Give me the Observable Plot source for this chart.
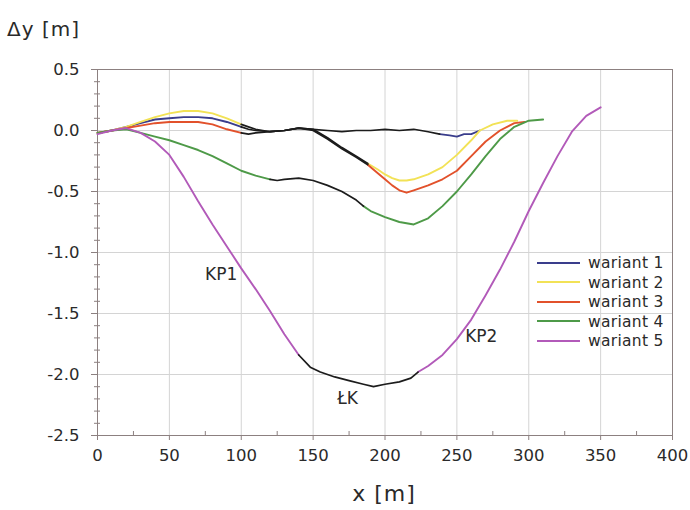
<!DOCTYPE html>
<html><head><meta charset="utf-8">
<script src="https://cdn.jsdelivr.net/npm/d3@7"></script>
<script src="https://cdn.jsdelivr.net/npm/@observablehq/plot@0.6"></script>
<style>
body{margin:0;background:#fff;font-family:"DejaVu Sans",Verdana,sans-serif;}
#wrap{position:relative;width:690px;height:510px;overflow:hidden;}
#wrap svg [aria-label$="tick label"]{font-size:16.5px !important;}
.lbl{position:absolute;color:#2a2a2a;white-space:nowrap;}
#legend{position:absolute;left:537px;top:254px;font-size:15.5px;line-height:19.5px;color:#2a2a2a;letter-spacing:0.3px;}
#legend div{white-space:nowrap;}
#legend span.sw{display:inline-block;width:43px;height:2px;vertical-align:middle;margin-right:8px;position:relative;top:-1px;}
</style></head><body><div id="wrap"></div>
<script>
// ---- data ----
const variantNames = ["wariant 1", "wariant 2", "wariant 3", "wariant 4", "wariant 5"];
const variantColors = ["#3a3d8c", "#f2e256", "#e2512b", "#4e9a48", "#b25ab9"];
const commonColor = "#1c1c1c";

const w1x = [0,10,20,30,40,50,60,70,80,90,100,105,110,120,130,140,150,160,170,180,190,200,210,220,230,238,245,250,255,260,266];
const w1y = [-0.02,0.0,0.03,0.06,0.09,0.10,0.11,0.11,0.10,0.07,0.03,0.01,0.0,-0.01,0.0,0.02,0.01,0.0,-0.01,0.0,0.0,0.01,0.0,0.01,-0.01,-0.03,-0.04,-0.05,-0.03,-0.03,0.0];
const w1black = [105, 238];

const w2x = [0,10,20,30,40,50,60,70,80,90,100,105,110,120,130,140,150,160,170,180,188,195,200,205,210,215,220,230,240,250,260,266,275,285,292];
const w2y = [-0.02,0.0,0.03,0.07,0.11,0.14,0.16,0.16,0.14,0.10,0.05,0.03,0.01,-0.01,0.0,0.02,0.01,-0.06,-0.14,-0.21,-0.27,-0.32,-0.36,-0.39,-0.41,-0.41,-0.40,-0.36,-0.30,-0.20,-0.08,0.0,0.05,0.08,0.08];
const w2black = [105, 188];

const w3x = [0,10,20,30,40,50,60,70,80,90,100,105,110,120,130,140,150,160,170,180,188,195,200,205,210,215,220,230,240,250,260,270,280,290,297];
const w3y = [-0.02,0.0,0.02,0.04,0.06,0.07,0.07,0.07,0.05,0.01,-0.02,-0.03,-0.02,-0.01,0.0,0.02,0.0,-0.07,-0.15,-0.22,-0.28,-0.35,-0.40,-0.45,-0.49,-0.51,-0.49,-0.45,-0.40,-0.33,-0.21,-0.09,0.0,0.06,0.07];
const w3black = [105, 188];

const w4x = [0,10,20,30,40,50,60,70,80,90,100,110,120,125,130,140,150,160,170,180,185,190,200,210,220,230,240,250,260,270,280,290,300,310];
const w4y = [-0.02,0.0,0.01,-0.02,-0.05,-0.08,-0.12,-0.16,-0.21,-0.27,-0.33,-0.37,-0.40,-0.41,-0.40,-0.39,-0.41,-0.45,-0.50,-0.57,-0.62,-0.66,-0.71,-0.75,-0.77,-0.72,-0.62,-0.50,-0.36,-0.21,-0.07,0.03,0.08,0.09];
const w4black = [125, 185];

const w5x = [0,10,20,30,40,50,60,70,80,90,100,110,120,130,140,148,155,165,175,185,192,200,210,218,223,230,240,250,260,270,280,290,300,310,320,330,340,350];
const w5y = [-0.03,0.0,0.02,-0.02,-0.09,-0.20,-0.38,-0.58,-0.77,-0.95,-1.13,-1.30,-1.48,-1.67,-1.84,-1.94,-1.98,-2.02,-2.05,-2.08,-2.10,-2.08,-2.06,-2.03,-1.98,-1.93,-1.84,-1.71,-1.55,-1.35,-1.14,-0.91,-0.66,-0.43,-0.21,-0.01,0.12,0.19];
const w5black = [148, 223];

const xTicks = [0,50,100,150,200,250,300,350,400];
const xMinor = [25,75,125,175,225,275,325,375];
const yTicks = [0.5,0.0,-0.5,-1.0,-1.5,-2.0,-2.5];
const yMinor = [0.4,0.3,0.2,0.1,-0.1,-0.2,-0.3,-0.4,-0.6,-0.7,-0.8,-0.9,-1.1,-1.2,-1.3,-1.4,-1.6,-1.7,-1.8,-1.9,-2.1,-2.2,-2.3,-2.4];

const annText = ["KP1", "KP2", "ŁK"];
const annX = [86, 267, 174];
const annY = [-1.18, -1.69, -2.20];

// ---- build segments ----
const variants = [
  [w1x, w1y, w1black], [w2x, w2y, w2black], [w3x, w3y, w3black],
  [w4x, w4y, w4black], [w5x, w5y, w5black]
];
const lineMarks = [];
variants.forEach(([xs, ys, bl], vi) => {
  const segs = [];
  let cur = null, curKind = null, prev = null;
  xs.forEach((x, i) => {
    const kind = x < bl[0] ? "a" : x <= bl[1] ? "k" : "b";
    const pt = {x, y: ys[i]};
    if (kind !== curKind) {
      cur = {kind, pts: prev ? [prev] : []};
      segs.push(cur);
      curKind = kind;
    }
    cur.pts.push(pt);
    prev = pt;
  });
  segs.filter(s => s.kind !== "k").forEach(s =>
    lineMarks.push(Plot.line(s.pts, {x: "x", y: "y", stroke: variantColors[vi], strokeWidth: 1.9})));
  segs.filter(s => s.kind === "k").forEach(s =>
    lineMarks.push(Plot.line(s.pts, {x: "x", y: "y", stroke: commonColor, strokeWidth: 1.7})));
});

const ann = annText.map((t, i) => ({t, x: annX[i], y: annY[i]}));
const axisColor = "#8c8080";

const chart = Plot.plot({
  width: 690, height: 510,
  marginLeft: 97, marginRight: 18, marginTop: 69, marginBottom: 75,
  style: {fontFamily: "'DejaVu Sans', Verdana, sans-serif", fontSize: "17px", color: "#2a2a2a", background: "#fff"},
  x: {domain: [0, 400]},
  y: {domain: [-2.5, 0.5]},
  marks: [
    Plot.gridX(xTicks, {stroke: "#d4d4d4", strokeOpacity: 1}),
    Plot.gridY(yTicks, {stroke: "#d4d4d4", strokeOpacity: 1}),
    Plot.axisX(xMinor, {tickSize: -4, text: null, label: null, stroke: axisColor}),
    Plot.axisY(yMinor, {tickSize: 3, text: null, label: null, stroke: axisColor}),
    Plot.axisY(yMinor, {tickSize: -3, text: null, label: null, stroke: axisColor}),
    Plot.axisX(xTicks, {tickSize: 5, tickPadding: 9, label: null, stroke: axisColor, fill: "#2a2a2a", fontSize: 17}),
    Plot.axisY(yTicks, {tickSize: 6, tickPadding: 12, label: null, stroke: axisColor, fill: "#2a2a2a", fontSize: 17, tickFormat: d => d.toFixed(1)}),
    Plot.frame({stroke: axisColor}),
    ...lineMarks,
    Plot.text(ann, {x: "x", y: "y", text: "t", fontSize: 17, fill: "#2a2a2a"})
  ]
});

const wrap = document.getElementById("wrap");
wrap.appendChild(chart);

const yl = document.createElement("div");
yl.className = "lbl"; yl.textContent = "Δy [m]";
yl.style.cssText = "left:7px;top:17px;font-size:20px;letter-spacing:1px;";
wrap.appendChild(yl);

const xl = document.createElement("div");
xl.className = "lbl"; xl.textContent = "x [m]";
xl.style.cssText = "left:0;width:768px;text-align:center;top:481px;font-size:22px;letter-spacing:1px;";
wrap.appendChild(xl);

const lg = document.createElement("div");
lg.id = "legend";
variantNames.forEach((n, i) => {
  const r = document.createElement("div");
  const sw = document.createElement("span");
  sw.className = "sw"; sw.style.background = variantColors[i];
  r.appendChild(sw);
  r.appendChild(document.createTextNode(n));
  lg.appendChild(r);
});
wrap.appendChild(lg);
</script></body></html>
